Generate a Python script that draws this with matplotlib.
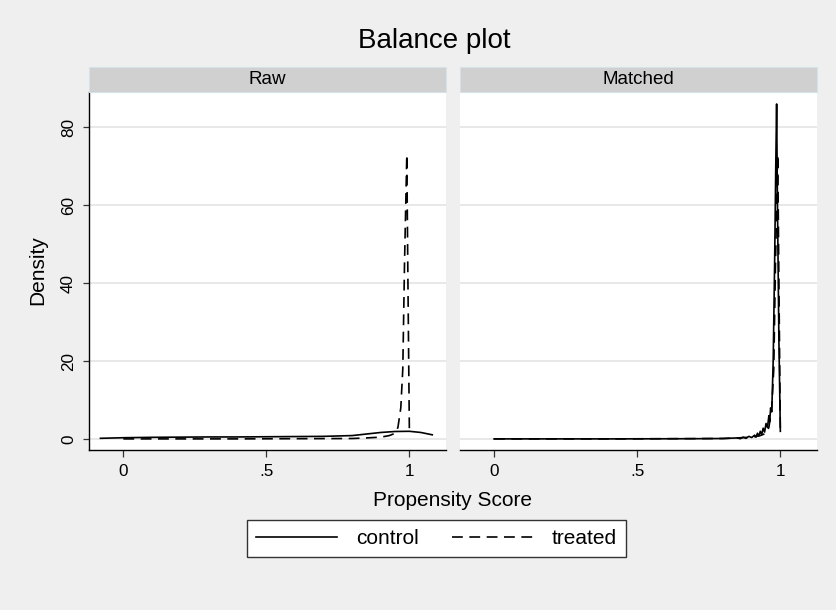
import matplotlib
matplotlib.use("Agg")
import matplotlib.pyplot as plt
from matplotlib.patches import Rectangle
from matplotlib.lines import Line2D

plt.rcParams['font.family'] = ['Liberation Sans', 'DejaVu Sans']

# ---------------- data ----------------
panel_titles = ["Raw", "Matched"]
series_names = ["control", "treated"]
x_ticks = [0, 0.5, 1]
x_ticklabels = ["0", ".5", "1"]
y_ticks = [0, 20, 40, 60, 80]
y_ticklabels = ["0", "20", "40", "60", "80"]

raw_control_x = [-0.08, 0.0, 0.1, 0.2, 0.3, 0.4, 0.5, 0.6, 0.7, 0.75, 0.8, 0.85, 0.9, 0.95, 1.0, 1.04, 1.08]
raw_control_y = [0.2, 0.35, 0.45, 0.5, 0.55, 0.55, 0.6, 0.65, 0.7, 0.8, 0.9, 1.3, 1.7, 1.95, 2.0, 1.7, 1.1]

raw_treated_x = [0.0, 0.2, 0.4, 0.6, 0.8, 0.85, 0.9, 0.93, 0.95, 0.96, 0.97, 0.977, 0.983, 0.991, 0.995, 1.0]
raw_treated_y = [0.05, 0.05, 0.05, 0.1, 0.15, 0.3, 0.5, 0.9, 1.5, 3.0, 8.0, 18.0, 45.0, 73.0, 40.0, 2.0]

matched_control_x = [0.0, 0.2, 0.4, 0.6, 0.7, 0.8, 0.85, 0.86, 0.87, 0.88, 0.89, 0.9, 0.91, 0.915,
                     0.92, 0.925, 0.93, 0.935, 0.94, 0.945, 0.95, 0.955, 0.96, 0.963, 0.966, 0.97,
                     0.975, 0.98, 0.984, 0.987, 0.99, 0.995, 1.0]
matched_control_y = [0.05, 0.05, 0.05, 0.08, 0.1, 0.15, 0.3, 0.1, 0.5, 0.2, 0.7, 0.4, 1.0, 0.5,
                     1.5, 0.8, 2.0, 1.2, 2.8, 1.8, 4.0, 3.0, 6.0, 4.5, 8.0, 7.0,
                     20.0, 45.0, 70.0, 86.0, 60.0, 25.0, 2.0]

matched_treated_x = raw_treated_x
matched_treated_y = raw_treated_y

# ---------------- figure ----------------
W, H = 837, 610
BG = "#efefef"
fig = plt.figure(figsize=(W / 100, H / 100), dpi=100, facecolor=BG)

def fx(px):
    return px / W

def fy(py):
    return 1 - py / H

panels = [
    (89.3, 445.7, [(raw_control_x, raw_control_y, "-"), (raw_treated_x, raw_treated_y, "--")]),
    (460.0, 816.7, [(matched_treated_x, matched_treated_y, "--"), (matched_control_x, matched_control_y, "-")]),
]
top_px, bot_px = 92.3, 450.0
strip_top = 66.7

dash = (0, (6.5, 3.9))
for i, (l, r, lines) in enumerate(panels):
    ax = fig.add_axes([fx(l), fy(bot_px), (r - l) / W, (bot_px - top_px) / H])
    ax.set_facecolor("white")
    ax.set_xlim(-0.119, 1.127)
    ax.set_ylim(-2.8, 89)
    for y in y_ticks:
        ax.axhline(y, color="#e6e6e6", lw=1.3, zorder=0)
    for xs, ys, ls in lines:
        ax.plot(xs, ys, color="black", lw=1.2,
                linestyle=dash if ls == "--" else "-", zorder=3)
    for s in ["top", "right"]:
        ax.spines[s].set_visible(False)
    ax.spines["bottom"].set_color("black")
    ax.spines["bottom"].set_linewidth(1.0)
    ax.set_xticks(x_ticks)
    ax.set_xticklabels(x_ticklabels, fontsize=12.3)
    ax.tick_params(axis="x", length=4.8, width=0.9, color="#333333", pad=5)
    if i == 0:
        ax.spines["left"].set_color("black")
        ax.spines["left"].set_linewidth(1.0)
        ax.set_yticks(y_ticks)
        ax.set_yticklabels(y_ticklabels, fontsize=12.3, rotation=90, va="center")
        ax.tick_params(axis="y", length=4.6, width=0.9, color="#333333", pad=5)
    else:
        ax.spines["left"].set_visible(False)
        ax.set_yticks([])
    # strip
    fig.patches.append(Rectangle((fx(l), fy(top_px)), (r - l) / W, (top_px - strip_top) / H,
                                 transform=fig.transFigure, facecolor="#d0d0d0",
                                 edgecolor="#d6e2ea", lw=0.8, zorder=1))
    fig.text(fx((l + r) / 2), fy((top_px + strip_top) / 2), panel_titles[i],
             ha="center", va="center", fontsize=13.5)

fig.text(fx(434), fy(48.3), "Balance plot", ha="center", va="baseline", fontsize=20)
fig.text(fx(453), fy(500), "Propensity Score", ha="center", va="center", fontsize=15)
fig.text(fx(38), fy(270), "Density", ha="center", va="center", rotation=90, fontsize=15)

handles = [Line2D([], [], color="black", lw=1.2, linestyle="-"),
           Line2D([], [], color="black", lw=1.2, linestyle=dash)]
leg = fig.legend(handles, series_names, loc="center", ncol=2,
                 bbox_to_anchor=(fx(436.5), fy(538.5)), fontsize=15,
                 frameon=True, fancybox=False, edgecolor="#333333", facecolor="white",
                 framealpha=1, handlelength=3.9, handletextpad=0.9, columnspacing=1.6,
                 borderpad=0.45, borderaxespad=0)
leg.get_frame().set_linewidth(1.0)

fig.savefig("out.png", dpi=100, facecolor=BG)
